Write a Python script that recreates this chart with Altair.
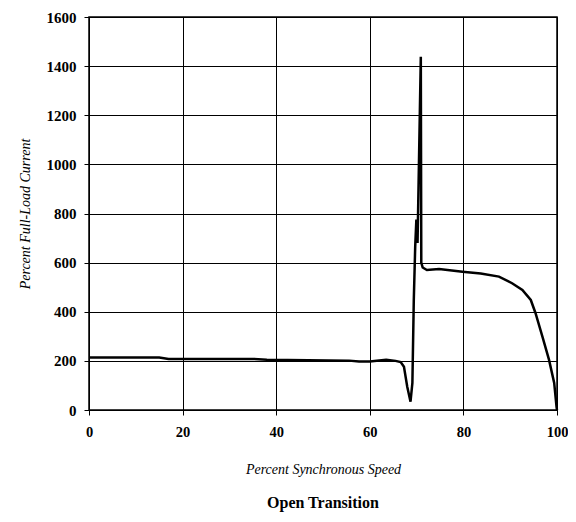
import altair as alt
import pandas as pd

speed = [0, 15, 17, 35, 38, 55.6, 57.7, 60, 63.5, 65.5, 66.6, 67.3, 68.0, 68.7, 69.1, 69.4, 69.7,
         69.95, 70.2, 70.9, 71.0, 71.3, 72.2, 74.8, 79.8, 83.7, 87.6, 90.4, 92.6, 94.4, 95.4,
         96.9, 98.3, 99.4, 99.9, 100]
current = [214, 214, 208, 208, 205, 201, 197, 197, 205, 200, 195, 176, 95, 34, 110, 448, 664,
           775, 680, 1438, 600, 580, 570, 574, 563, 556, 543, 516, 489, 448, 395,
           298, 204, 110, 13, 0]

df = pd.DataFrame({"speed": speed, "current": current, "idx": list(range(len(speed)))})

FONT = "Liberation Serif"

chart = alt.Chart(df).mark_line(color="black", strokeWidth=2.5).encode(
    x=alt.X("speed:Q", scale=alt.Scale(domain=[0, 100], nice=False),
            axis=alt.Axis(values=[0, 20, 40, 60, 80, 100], format="d", title="Percent Synchronous Speed",
                          titleFontStyle="italic", titleFontWeight="normal", titleFont=FONT,
                          titleFontSize=14, titlePadding=24, labelFont=FONT, labelFontWeight="bold",
                          labelFontSize=14.5, labelPadding=10, tickSize=5, tickColor="black",
                          labelFlush=False, labelOverlap=False,
                          domainColor="black", gridColor="black", gridOpacity=1, labelColor="black",
                          titleColor="black")),
    y=alt.Y("current:Q", scale=alt.Scale(domain=[0, 1600], nice=False),
            axis=alt.Axis(values=list(range(0, 1601, 200)), format="d", title="Percent Full-Load Current",
                          titleFontStyle="italic", titleFontWeight="normal", titleFont=FONT,
                          titleFontSize=14, titlePadding=14, labelFont=FONT, labelFontWeight="bold",
                          labelFontSize=15, labelPadding=8, tickSize=5, tickColor="black",
                          labelFlush=False, labelOverlap=False,
                          domainColor="black", gridColor="black", gridOpacity=1, labelColor="black",
                          titleColor="black")),
    order="idx:Q",
).properties(
    width=468, height=393,
    title=alt.TitleParams("Open Transition", orient="bottom", font=FONT, fontSize=16,
                          fontWeight="bold", color="black", offset=18),
    autosize=alt.AutoSizeParams(type="none"),
    padding={"left": 81, "top": 9, "right": 11, "bottom": 104},
).configure_view(stroke="black", strokeWidth=1.5)

chart.save("out.html", embed_options={"renderer": "svg", "actions": False})
